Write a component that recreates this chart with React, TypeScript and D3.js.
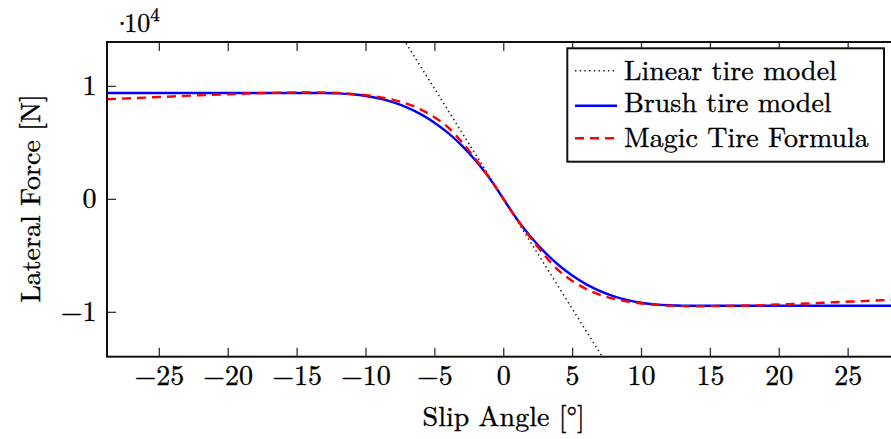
import React from "react";
import * as d3 from "d3";

// Slip angle samples [deg]
const angles = [-28.8, -26, -24, -22, -20, -18, -16, -15, -14, -13, -12, -11, -10, -9, -8, -7, -6, -5, -4, -3, -2, -1, 0,
  1, 2, 3, 4, 5, 6, 7, 8, 9, 10, 11, 12, 13, 14, 15, 16, 18, 20, 22, 24, 26, 28.8];

// Brush tire model lateral force [N]
const brushForce = [9420, 9420, 9420, 9420, 9420, 9420, 9420, 9420, 9420, 9413, 9380, 9299, 9152, 8919, 8583, 8124, 7525, 6769, 5837, 4714, 3378, 1813, 0,
  -1813, -3378, -4714, -5837, -6769, -7525, -8124, -8583, -8919, -9152, -9299, -9380, -9413, -9420, -9420, -9420, -9420, -9420, -9420, -9420, -9420, -9420];

// Magic tire formula lateral force [N]
const magicForce = [8860, 9010, 9110, 9220, 9310, 9395, 9440, 9455, 9460, 9450, 9410, 9340, 9220, 9050, 8800, 8455, 7945, 7240, 6320, 5010, 3480, 1843, 0,
  -1843, -3480, -5010, -6320, -7240, -7945, -8455, -8800, -9050, -9220, -9340, -9410, -9450, -9460, -9455, -9440, -9395, -9310, -9220, -9110, -9010, -8860];

// Linear tire model (two end points)
const linearAngles = [-8, 8];
const linearForce = [15590, -15590];

const xTicks = [-25, -20, -15, -10, -5, 0, 5, 10, 15, 20, 25];
const yTicks = [-1, 0, 1]; // in units of 10^4 N

const legendItems = ["Linear tire model", "Brush tire model", "Magic Tire Formula"];

export default function App() {
  const W = 891, H = 439;
  const left = 107, right = 900.5, top = 42, bottom = 356.7;
  const x = d3.scaleLinear().domain([-28.8, 28.8]).range([left, right]);
  const y = d3.scaleLinear().domain([-13930, 13930]).range([bottom, top]);

  const line = d3.line<[number, number]>()
    .x((d) => x(d[0]))
    .y((d) => y(d[1]))
    .curve(d3.curveMonotoneX);
  const straight = d3.line<[number, number]>().x((d) => x(d[0])).y((d) => y(d[1]));

  const brushPts = angles.map((a, i) => [a, brushForce[i]] as [number, number]);
  const magicPts = angles.map((a, i) => [a, magicForce[i]] as [number, number]);
  const linPts = linearAngles.map((a, i) => [a, linearForce[i]] as [number, number]);

  const ts = { fontFamily: "\"Latin Modern Roman\"" };
  const tickLen = 9;
  const tickColor = "#333";
  const tw = { stroke: "#000", strokeWidth: 0.35 };

  const lx = 567.3, ly = 48.3, lw = 316.7, lh = 113.4;
  const rowBase = [80, 112, 146.5];
  const rowLine = [70.7, 105.7, 138.3];

  return (
    <svg width={W} height={H} style={{ position: "absolute", left: 0, top: 0, background: "#fff" }}>
      <defs>
        <clipPath id="plotclip">
          <rect x={left} y={top} width={right - left} height={bottom - top} />
        </clipPath>
      </defs>
      <rect x={0} y={0} width={W} height={H} fill="#fff" />

      {/* ticks */}
      {xTicks.map((t) => (
        <g key={"xt" + t}>
          <line x1={x(t)} x2={x(t)} y1={bottom} y2={bottom - tickLen} stroke={tickColor} strokeWidth={1.3} />
          <line x1={x(t)} x2={x(t)} y1={top} y2={top + tickLen} stroke={tickColor} strokeWidth={1.3} />
          <text x={x(t)} y={385} textAnchor="middle" fontSize={28} fill="#000" {...tw} style={ts}>
            {t < 0 ? "\u2212" + Math.abs(t) : String(t)}
          </text>
        </g>
      ))}
      {yTicks.map((t) => (
        <g key={"yt" + t}>
          <line x1={left} x2={left + tickLen} y1={y(t * 1e4)} y2={y(t * 1e4)} stroke={tickColor} strokeWidth={1.3} />
          <line x1={right} x2={right - tickLen} y1={y(t * 1e4)} y2={y(t * 1e4)} stroke={tickColor} strokeWidth={1.3} />
          <text x={96.5} y={y(t * 1e4) + 9} textAnchor="end" fontSize={28} fill="#000" {...tw} style={ts}>
            {t < 0 ? "\u2212" + Math.abs(t) : String(t)}
          </text>
        </g>
      ))}

      {/* curves */}
      <g clipPath="url(#plotclip)">
        <path d={straight(linPts) || ""} fill="none" stroke="#222" strokeWidth={1.6}
          strokeDasharray="1.4 3.3" />
        <path d={line(brushPts) || ""} fill="none" stroke="#0000ff" strokeWidth={2.4} />
        <path d={line(magicPts) || ""} fill="none" stroke="#ff0000" strokeWidth={2.4}
          strokeDasharray="9 6" />
      </g>

      {/* frame */}
      <rect x={left} y={top} width={right - left} height={bottom - top} fill="none" stroke="#111" strokeWidth={2} />

      {/* legend */}
      <rect x={lx} y={ly} width={lw} height={lh} fill="#fff" stroke="#111" strokeWidth={2} />
      <line x1={575} x2={617} y1={rowLine[0]} y2={rowLine[0]} stroke="#222" strokeWidth={1.6} strokeDasharray="1.4 3.3" />
      <line x1={575} x2={617} y1={rowLine[1]} y2={rowLine[1]} stroke="#0000ff" strokeWidth={2.4} />
      <line x1={575} x2={617} y1={rowLine[2]} y2={rowLine[2]} stroke="#ff0000" strokeWidth={2.4} strokeDasharray="9 6" />
      {legendItems.map((s, i) => (
        <text key={s} x={624} y={rowBase[i]} fontSize={28} fill="#000" {...tw} style={ts}>{s}</text>
      ))}

      {/* axis labels */}
      <text x={503.7} y={426} textAnchor="middle" fontSize={28} fill="#000" {...tw} style={ts}>Slip Angle [°]</text>
      <text transform={`translate(40,198.5) rotate(-90)`} textAnchor="middle" fontSize={28} fill="#000" {...tw} style={ts}>
        Lateral Force [N]
      </text>
      <text x={112} y={32} fontSize={26} fill="#000" {...tw} style={ts}>
        ·<tspan dx={-8}>10</tspan><tspan fontSize={19} dy={-11}>4</tspan>
      </text>
    </svg>
  );
}
